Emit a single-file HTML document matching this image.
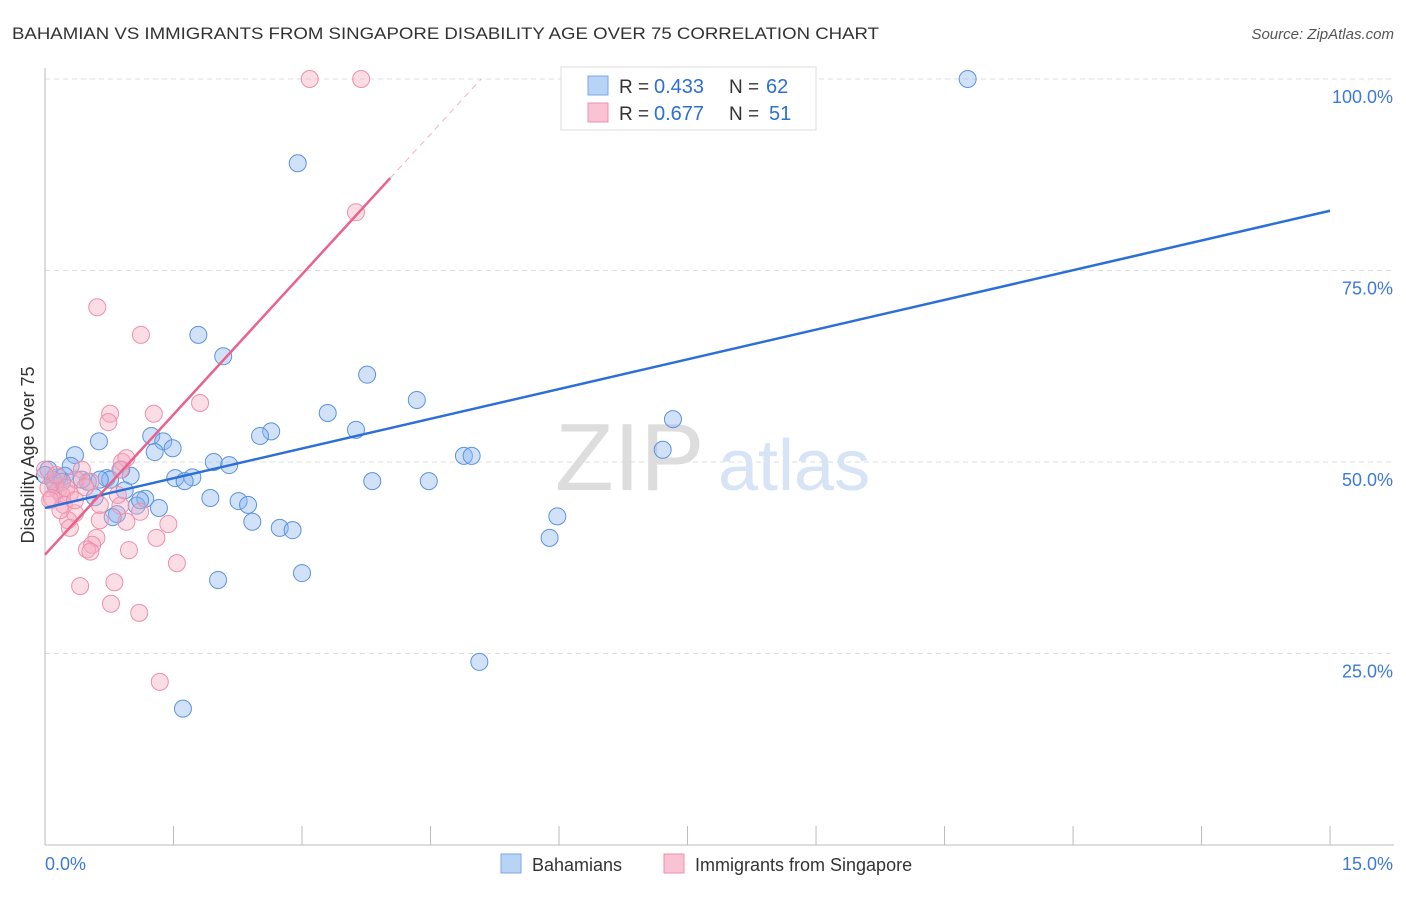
<!DOCTYPE html>
<html><head><meta charset="utf-8"><style>
body{margin:0;background:#fff;font-family:"Liberation Sans",sans-serif}
svg text{font-family:"Liberation Sans",sans-serif}
</style></head><body>
<svg width="1406" height="892" xmlns="http://www.w3.org/2000/svg">
<text x="12" y="39" font-size="17" fill="#333" textLength="867" lengthAdjust="spacingAndGlyphs">BAHAMIAN VS IMMIGRANTS FROM SINGAPORE DISABILITY AGE OVER 75 CORRELATION CHART</text>
<text x="1394" y="39" font-size="15" fill="#555" font-style="italic" text-anchor="end">Source: ZipAtlas.com</text>
<g id="grid"></g>
<g><text x="555" y="490" font-size="96" fill="#ddd" font-family="Liberation Serif">ZIP</text><text x="718" y="490" font-size="72" fill="#d6e4f5">atlas</text></g>
<g id="axes"></g>
<g id="pts"></g>
<g id="lines"></g>
<text transform="translate(34,455) rotate(-90)" font-size="18" fill="#333" text-anchor="middle">Disability Age Over 75</text>
<g>
<rect x="561" y="67" width="255" height="63" fill="#fff" stroke="#ddd"/>
<rect x="588" y="76" width="20" height="19" fill="#b8d3f5" stroke="#7aa7e6"/>
<rect x="588" y="103" width="20" height="19" fill="#f9c3d3" stroke="#ee8fac"/>
<text x="619" y="93" font-size="19" fill="#333">R =</text>
<text x="654" y="93" font-size="20" fill="#2c6fd6">0.433</text>
<text x="729" y="93" font-size="19" fill="#333">N =</text>
<text x="766" y="93" font-size="20" fill="#2c6fd6">62</text>
<text x="619" y="120" font-size="19" fill="#333">R =</text>
<text x="654" y="120" font-size="20" fill="#2c6fd6">0.677</text>
<text x="729" y="120" font-size="19" fill="#333">N =</text>
<text x="769" y="120" font-size="20" fill="#2c6fd6">51</text>
</g>
<g>
<rect x="501" y="854" width="20" height="19" fill="#b8d3f5" stroke="#7aa7e6"/>
<text x="532" y="871" font-size="18" fill="#333">Bahamians</text>
<rect x="664" y="854" width="20" height="19" fill="#f9c3d3" stroke="#ee8fac"/>
<text x="695" y="871" font-size="18" fill="#333">Immigrants from Singapore</text>
</g>
</svg>
<script>
const xTicks=[0,1.5,3,4.5,6,7.5,9,10.5,12,13.5,15];
const yTicks=[25,50,75,100];
const yTickLabels=["25.0%","50.0%","75.0%","100.0%"];
const blueX=[10.77,2.95,1.79,2.08,3.76,4.34,3.30,7.33,3.63,2.64,2.51,1.24,1.38,1.49,1.28,0.63,0.35,7.21,4.89,4.98,1.97,2.15,0.30,1.52,1.72,1.63,1.00,0.72,0.15,0.23,0.50,0.09,3.82,4.48,0.93,0.58,1.17,1.93,2.26,2.37,1.07,1.33,0.84,0.79,2.42,2.74,2.89,5.98,5.89,3.00,2.02,5.07,1.61,0.04,0.12,0.43,0.89,0.20,0.76,0.0,1.11,0.64];
const blueY=[100,89.0,66.6,63.8,61.4,58.1,56.4,55.6,54.2,54.0,53.4,53.4,52.7,51.8,51.3,52.7,50.9,51.6,50.8,50.8,50.0,49.6,49.5,47.9,48.0,47.5,48.2,47.9,48.0,48.2,47.4,47.7,47.5,47.5,46.3,45.4,45.2,45.3,44.9,44.4,44.3,44.0,43.2,42.8,42.2,41.4,41.1,42.9,40.1,35.5,34.6,23.9,17.8,49.0,47.0,47.7,49.0,47.4,47.7,48.3,45.0,47.7];
const pinkX=[3.09,3.69,3.63,0.61,1.12,1.81,0.76,1.27,0.74,0.90,0.95,0.43,0.88,0.36,0.53,0.11,0.15,0.29,0.04,0.20,0.08,0.22,0.35,0.27,0.64,0.95,1.44,0.29,0.60,1.30,0.55,0.49,0.53,0.98,1.54,0.81,0.41,0.77,1.10,1.34,0.88,0.64,0.0,0.13,0.25,0.47,0.35,0.18,0.85,1.11,0.06];
const pinkY=[100,100,82.6,70.2,66.6,57.7,56.3,56.3,55.2,50.0,50.5,49.0,49.0,47.7,47.4,47.4,46.3,45.8,46.6,45.6,45.3,44.4,43.3,42.4,42.4,42.2,41.9,41.4,40.1,40.1,39.2,38.6,38.3,38.5,36.8,34.3,33.8,31.5,30.3,21.3,44.3,44.4,49.0,48.3,46.6,46.7,45.0,43.7,45.7,43.5,45.0];
const blueTrend=[44.0,82.8];
const pinkTrend=[37.9,12.2];
const NS="http://www.w3.org/2000/svg";
const sx=v=>45+v*85.67, sy=v=>845-v*7.66;
function mk(p,tag,a){const e=document.createElementNS(NS,tag);for(const k in a)e.setAttribute(k,a[k]);p.appendChild(e);return e;}
const grid=document.getElementById('grid'),axes=document.getElementById('axes'),pts=document.getElementById('pts'),lines=document.getElementById('lines');
yTicks.forEach((t,i)=>{const g=mk(grid,'line',{x1:45,x2:1394,y1:sy(t),y2:sy(t),stroke:'#ddd','stroke-dasharray':'5,4'});


const l=mk(axes,'text',{x:1393,y:sy(t)+24,'font-size':18,fill:'#3d7ad6','text-anchor':'end'});l.textContent=yTickLabels[i];

});
const ax=mk(axes,'line',{x1:45,x2:1394,y1:845,y2:845,stroke:'#bbb'});


const ay=mk(axes,'line',{x1:45,x2:45,y1:68,y2:845,stroke:'#bbb'});


xTicks.forEach(t=>{const k=mk(axes,'line',{x1:sx(t),x2:sx(t),y1:826,y2:845,stroke:'#bbb'});

});
[["0.0%",45,'start'],["15.0%",1393,'end']].forEach(([s,x,a])=>{const l=mk(axes,'text',{x:x,y:870,'font-size':18,fill:'#3d7ad6','text-anchor':a});l.textContent=s;

});
blueX.forEach((x,i)=>{const c=mk(pts,'circle',{cx:sx(x),cy:sy(blueY[i]),r:8.5,fill:'rgba(140,183,238,0.4)',stroke:'#5b93de','stroke-width':1});

});
pinkX.forEach((x,i)=>{const c=mk(pts,'circle',{cx:sx(x),cy:sy(pinkY[i]),r:8.5,fill:'rgba(246,170,192,0.4)',stroke:'#ee8fac','stroke-width':1});

});
const bl=mk(lines,'line',{x1:sx(0),y1:sy(blueTrend[0]),x2:sx(15),y2:sy(blueTrend[1]),stroke:'#2c6fd6','stroke-width':2.5});


const pEnd=4.03,pDash=(100-pinkTrend[0])/pinkTrend[1];
const pl=mk(lines,'line',{x1:sx(0),y1:sy(pinkTrend[0]),x2:sx(pEnd),y2:sy(pinkTrend[0]+pinkTrend[1]*pEnd),stroke:'#e8628d','stroke-width':2.5});


const pd=mk(lines,'line',{x1:sx(pEnd),y1:sy(pinkTrend[0]+pinkTrend[1]*pEnd),x2:sx(pDash),y2:sy(100),stroke:'#f0b3c6','stroke-width':1,'stroke-dasharray':'6,5'});


</script>
</body></html>
